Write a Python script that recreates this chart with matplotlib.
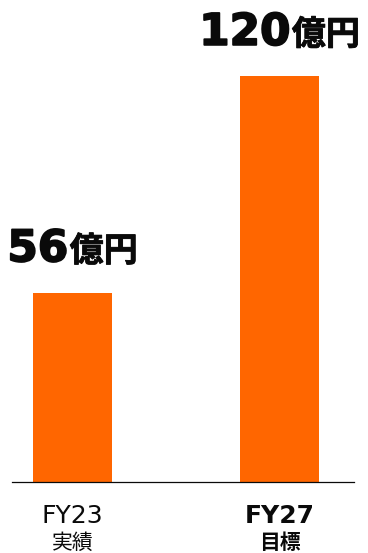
import matplotlib
matplotlib.use("Agg")
import matplotlib.pyplot as plt
import matplotlib.patheffects as pe
from matplotlib.offsetbox import TextArea, HPacker, AnnotationBbox

# Data
years = ["FY23", "FY27"]
subtitles = ["実績", "目標"]
values = [56, 120]
unit = "億円"

BAR_COLOR = "#FF6600"
TEXT_COLOR = "#0a0a0a"
JP = ["Noto Sans CJK JP", "DejaVu Sans"]

fig = plt.figure(figsize=(3.68, 5.53), dpi=100)
ax = fig.add_axes([12 / 368, 71 / 553, 342 / 368, 482 / 553])

x = list(range(len(values)))
ax.bar(x, values, width=0.3816, color=BAR_COLOR, zorder=2)

ax.set_xlim(-0.2923, 1.3599)
ax.set_ylim(0, 142.5)

for side in ("top", "right", "left"):
    ax.spines[side].set_visible(False)
ax.spines["bottom"].set_color(TEXT_COLOR)
ax.spines["bottom"].set_linewidth(0.9)
ax.set_yticks([])
ax.set_xticks([])

heavy = [pe.withStroke(linewidth=1.3, foreground=TEXT_COLOR)]
semi = [pe.withStroke(linewidth=0.6, foreground=TEXT_COLOR)]

# Value labels: large heavy number followed by a smaller unit
for xi, v in zip(x, values):
    num = TextArea(f"{v}", textprops=dict(fontsize=31.5, fontweight="bold",
                                           family="DejaVu Sans", color=TEXT_COLOR,
                                           path_effects=heavy))
    u = TextArea(unit, textprops=dict(fontsize=24.5, fontweight="bold",
                                      family=JP, color=TEXT_COLOR,
                                      path_effects=semi))
    box = HPacker(children=[num, u], align="baseline", pad=0, sep=1)
    ab = AnnotationBbox(box, (xi, v), xybox=(0, 16), boxcoords="offset points",
                        box_alignment=(0.5, 0), frameon=False, pad=0)
    ax.add_artist(ab)

# Category labels under the axis
trans = ax.get_xaxis_transform()
for i, (yr, sub) in enumerate(zip(years, subtitles)):
    weight = "bold" if i == len(years) - 1 else "normal"
    ax.annotate(yr, (i, 0), xycoords=trans, xytext=(0, -16), textcoords="offset points",
                ha="center", va="top", fontsize=18, fontweight=weight,
                family="DejaVu Sans", color=TEXT_COLOR)
    ax.annotate(sub, (i, 0), xycoords=trans, xytext=(0, -36), textcoords="offset points",
                ha="center", va="top", fontsize=15, fontweight=weight,
                family=JP, color=TEXT_COLOR)

fig.savefig("out.png", dpi=100)
